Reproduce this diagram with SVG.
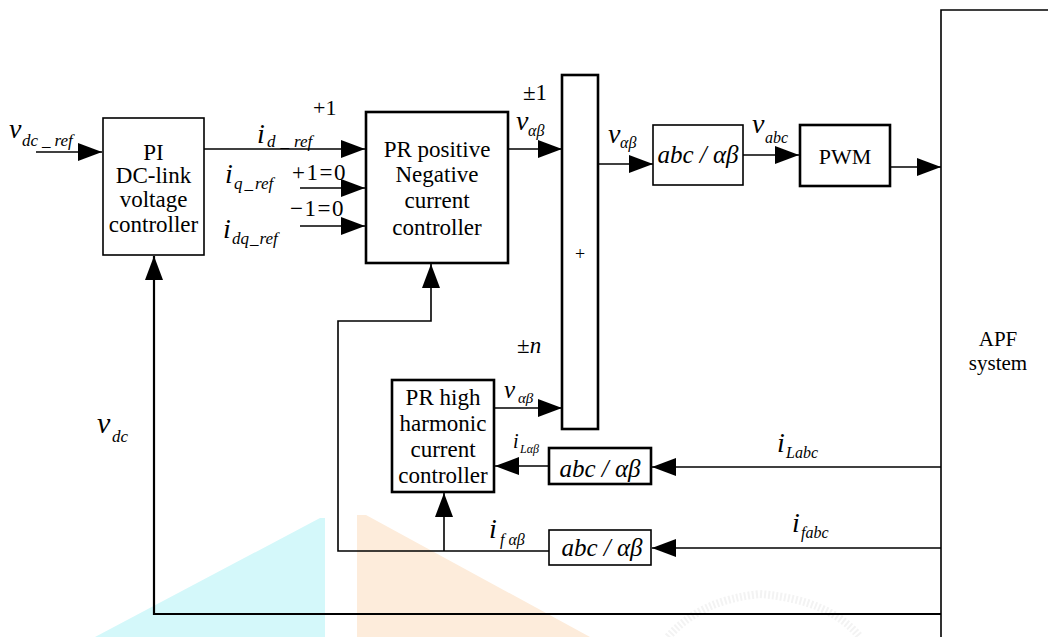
<svg xmlns="http://www.w3.org/2000/svg" width="1048" height="637" viewBox="0 0 1048 637" font-family="'Liberation Serif', 'Times New Roman', 'DejaVu Serif', serif">
<style>
text{font-family:'Liberation Serif','Times New Roman','DejaVu Serif',serif;fill:#000}
.t{font-size:23px;text-anchor:middle}
.m{font-style:italic;font-size:28px}
.s{font-style:italic;font-size:16px}
.n{font-size:22px}
.box{fill:#fff;stroke:#000;stroke-width:1.6}
.bold{fill:#fff;stroke:#000;stroke-width:2.6}
.ln{fill:none;stroke:#000;stroke-width:1.6}
.ab{font-style:italic;font-size:25px;text-anchor:middle}
</style>
<defs>
<marker id="ar" markerUnits="userSpaceOnUse" markerWidth="24" markerHeight="18" refX="24" refY="9" orient="auto">
<path d="M0,0 L24,9 L0,18 z" fill="#000"/>
</marker>
</defs>
<rect width="1048" height="637" fill="#fff"/>
<g id="watermark">
<polygon points="320,518 325,518 325,637 95,637" fill="#d4f8fa"/>
<polygon points="357,515 366,515 590,637 357,637" fill="#fdecdb"/>
<path d="M668,637 Q700,600 760,594 Q830,600 860,637" fill="none" stroke="#f3f3f3" stroke-width="8" stroke-dasharray="2 2"/>
</g>
<g id="connectors">
<line class="ln" x1="36" y1="152" x2="102" y2="152" marker-end="url(#ar)"/>
<line class="ln" x1="204" y1="149" x2="365" y2="149" marker-end="url(#ar)"/>
<line class="ln" x1="300" y1="188" x2="365" y2="188" marker-end="url(#ar)"/>
<line class="ln" x1="300" y1="226" x2="365" y2="226" marker-end="url(#ar)"/>
<line class="ln" x1="508" y1="149" x2="562" y2="149" marker-end="url(#ar)"/>
<line class="ln" x1="598" y1="164" x2="653" y2="164" marker-end="url(#ar)"/>
<line class="ln" x1="743" y1="155" x2="799" y2="155" marker-end="url(#ar)"/>
<line class="ln" x1="890" y1="167" x2="941" y2="167" marker-end="url(#ar)"/>
<line class="ln" x1="494" y1="408" x2="562" y2="408" marker-end="url(#ar)"/>
<line class="ln" x1="549" y1="466" x2="495" y2="466" marker-end="url(#ar)"/>
<line class="ln" x1="941" y1="467" x2="652" y2="467" marker-end="url(#ar)"/>
<line class="ln" x1="941" y1="548" x2="652" y2="548" marker-end="url(#ar)"/>
<polyline class="ln" points="549,551 338,551 338,321 431,321 431,264" marker-end="url(#ar)"/>
<line class="ln" x1="444" y1="551" x2="444" y2="493" marker-end="url(#ar)"/>
<polyline class="ln" points="941,614 154,614 154,256" marker-end="url(#ar)" style="stroke-width:2.2"/>
</g>
<g id="pi">
<rect class="box" x="103" y="118" width="101" height="137"/>
<text class="t" x="153.5" y="160">PI</text>
<text class="t" x="153.5" y="183">DC-link</text>
<text class="t" x="153.5" y="207">voltage</text>
<text class="t" x="153.5" y="232">controller</text>
</g>
<g id="pr">
<rect class="bold" x="366" y="112" width="142" height="151"/>
<text class="t" x="437" y="157">PR positive</text>
<text class="t" x="437" y="182">Negative</text>
<text class="t" x="437" y="208">current</text>
<text class="t" x="437" y="235">controller</text>
</g>
<g id="sum">
<rect class="bold" x="562" y="75" width="36" height="354"/>
<text x="580" y="260" style="font-size:18px;text-anchor:middle">+</text>
</g>
<g id="abc1">
<rect class="box" x="653" y="125" width="90" height="60"/>
<text class="ab" x="698" y="163">abc / αβ</text>
</g>
<g id="pwm">
<rect class="bold" x="800" y="125" width="90" height="61"/>
<text x="845" y="164" style="font-size:22px;text-anchor:middle">PWM</text>
</g>
<g id="apf">
<polyline class="ln" points="941,637 941,10 1048,10"/>
<text x="998" y="346" style="font-size:21px;text-anchor:middle">APF</text>
<text x="998" y="370" style="font-size:21px;text-anchor:middle">system</text>
</g>
<g id="prh">
<rect class="bold" x="392" y="380" width="102" height="112"/>
<text class="t" x="443" y="405">PR high</text>
<text class="t" x="443" y="431">harmonic</text>
<text class="t" x="443" y="457">current</text>
<text class="t" x="443" y="483">controller</text>
</g>
<g id="abc2">
<rect class="bold" x="549" y="448" width="102" height="36"/>
<text class="ab" x="600" y="477">abc / αβ</text>
</g>
<g id="abc3">
<rect class="box" x="549" y="530" width="102" height="35"/>
<text class="ab" x="602" y="556">abc / αβ</text>
</g>
<g id="labels">
<text class="m" x="9" y="138">v</text>
<text class="s" x="22" y="146" style="font-size:17px">dc<tspan dx="4">_</tspan><tspan dx="4">ref</tspan></text>
<text class="m" x="257" y="143">i</text>
<text class="s" x="267" y="147" style="font-size:17px">d<tspan dx="5">_</tspan><tspan dx="5">ref</tspan></text>
<text class="n" x="313" y="115" style="font-size:22px">+1</text>
<text class="m" x="225" y="183">i</text>
<text class="s" x="234" y="189" style="font-size:17px">q<tspan dx="2">_</tspan><tspan dx="2">ref</tspan></text>
<text class="n" x="292" y="180" style="font-size:23px;letter-spacing:1.5px">+1=0</text>
<text class="m" x="223" y="238">i</text>
<text class="s" x="232" y="244" style="font-size:17px">dq<tspan dx="1">_</tspan><tspan dx="1">ref</tspan></text>
<text class="n" x="290" y="216" style="font-size:23px;letter-spacing:1.5px">−1=0</text>
<text class="n" x="523" y="100" style="font-size:23px">±1</text>
<text class="m" x="516" y="130">v</text>
<text class="s" x="528" y="136">αβ</text>
<text class="m" x="608" y="143">v</text>
<text class="s" x="620" y="148">αβ</text>
<text class="m" x="752" y="133">v</text>
<text class="s" x="765" y="143">abc</text>
<text class="n" x="517" y="353" style="font-size:23px">±<tspan style="font-style:italic">n</tspan></text>
<text class="m" x="504" y="398" style="font-size:25px">v</text>
<text class="s" x="518" y="403" style="font-size:15px">αβ</text>
<text class="m" x="513" y="448" style="font-size:20px">i</text>
<text class="s" x="520" y="453" style="font-size:12px">Lαβ</text>
<text class="m" x="777" y="452">i</text>
<text class="s" x="786" y="458">Labc</text>
<text class="m" x="792" y="532">i</text>
<text class="s" x="801" y="538">fabc</text>
<text class="m" x="489" y="538">i</text>
<text class="s" x="500" y="545">f αβ</text>
<text class="m" x="97" y="433" style="font-size:30px">v</text>
<text class="s" x="112" y="442" style="font-size:17px">dc</text>
</g>
</svg>
